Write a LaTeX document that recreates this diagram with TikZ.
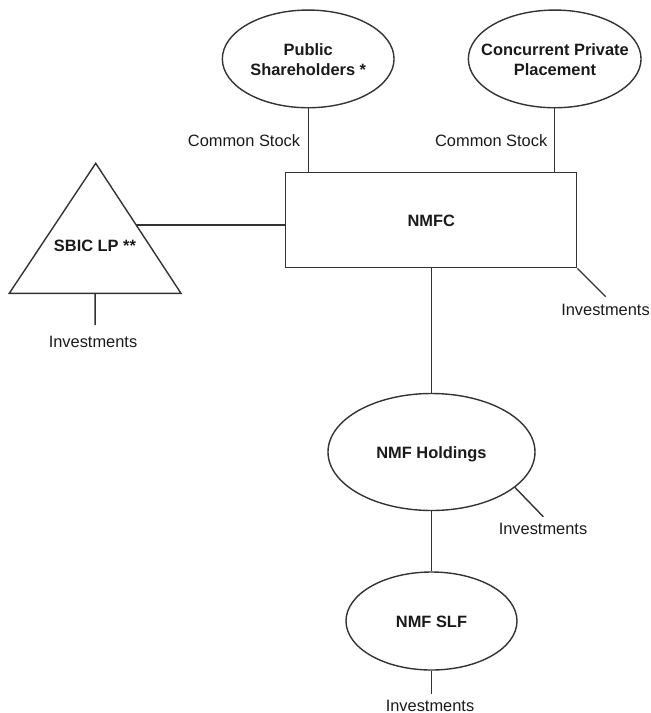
\documentclass[tikz,border=0pt]{standalone}
\usepackage{fontspec}
\setmainfont{Liberation Sans}
\usetikzlibrary{shapes.geometric,calc}
\definecolor{ln}{HTML}{333333}
\definecolor{tx}{HTML}{1A1A1A}
\begin{document}
\begin{tikzpicture}[x=1pt,y=-1pt,
  conn/.style={draw=ln,line width=1.4pt},
  outline/.style={draw=ln,line width=1.4pt},
  oval/.style={ellipse,outline,inner sep=0pt,font=\fontsize{16.4}{20}\selectfont\bfseries,text=tx,text height=12pt,text depth=0pt},
  lbl/.style={font=\fontsize{16.4}{20}\selectfont,text=tx,inner sep=0pt,text height=12pt,text depth=0pt},
  blbl/.style={lbl,font=\fontsize{16.4}{20}\selectfont\bfseries},
  mlbl/.style={font=\fontsize{16.4}{20}\selectfont\bfseries,text=tx,inner sep=0pt,align=center},
  boxnode/.style={rectangle,outline,inner sep=0pt,font=\fontsize{16.4}{20}\selectfont\bfseries,text=tx,text height=12pt,text depth=0pt}
]
\useasboundingbox (0,0) rectangle (651,713);
% top ovals
\node[oval,minimum width=171.7pt,minimum height=97.7pt] (pub) at (308.2,58.9) {};
\node[mlbl] (pubt) at (308.2,59.3) {Public\\Shareholders *};
\node[oval,minimum width=172.7pt,minimum height=97.7pt] (cpp) at (554.7,58.9) {};
\node[mlbl] (cppt) at (555,59.3) {Concurrent Private\\Placement};
% NMFC box
\node[boxnode,minimum width=291pt,minimum height=95.4pt] (nmfc) at (431.2,220) {NMFC};
% common stock links
\draw[conn] (pub.south) -- (pub.south |- nmfc.north);
\node[lbl] (cs1) at (244,140) {Common Stock};
\draw[conn] (cpp.south) -- (cpp.south |- nmfc.north);
\node[lbl] (cs2) at (491.2,140) {Common Stock};
% SBIC triangle
\coordinate (sbA) at (95.7,163.3);
\coordinate (sbL) at (9.3,293.3);
\coordinate (sbR) at (181,293.3);
\draw[outline,line join=miter] (sbA) -- (sbR) -- (sbL) -- cycle;
\node[blbl] (sbic) at (95,245) {SBIC LP **};
\coordinate (sbE) at ($(sbA)!0.4746!(sbR)$);
\draw[conn] (sbE) -- (sbE -| nmfc.west);
\coordinate (sbB) at ($(sbL)!0.5!(sbR)$);
\coordinate (sbInvEnd) at (95.2,325);
\draw[conn] (sbB) -- (sbInvEnd);
\node[lbl] (inv1) at (93,341.7) {Investments};
% NMFC investments
\coordinate (nmInv) at (605.7,296.7);
\draw[conn] (nmfc.south east) -- (nmInv);
\node[lbl] (inv2) at (605.5,309.3) {Investments};
% NMF Holdings
\node[oval,minimum width=207pt,minimum height=117pt] (hold) at (431.5,452) {NMF Holdings};
\draw[conn] (nmfc.south) -- (nmfc.south |- hold.north);
\coordinate (holdInv) at (543.3,516.7);
\draw[conn] (hold.-23.3) -- (holdInv);
\node[lbl] (inv3) at (543,528) {Investments};
% NMF SLF
\node[oval,minimum width=171pt,minimum height=98pt] (slf) at (431.5,621) {NMF SLF};
\draw[conn] (hold.south) -- (slf.north);
\coordinate (slfInv) at (431.5,694);
\draw[conn] (slf.south) -- (slfInv);
\node[lbl] (inv4) at (430,705) {Investments};
\end{tikzpicture}
\end{document}
